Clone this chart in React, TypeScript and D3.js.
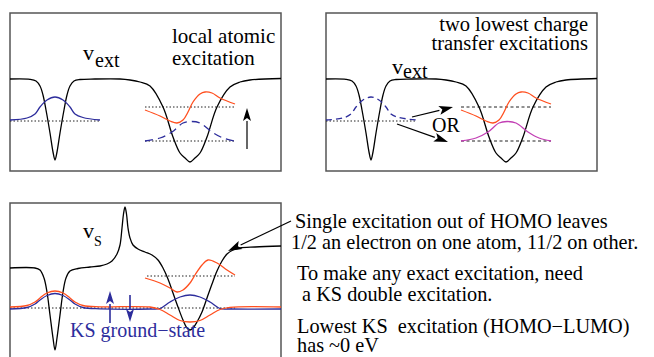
import * as d3 from 'd3';
import { useEffect, useRef } from 'react';

type Pt = [number, number];

// x: position along the diatomic (a.u.), y: energy (a.u.), plateau of v_ext = 0
const vextCurve: Pt[] = [
  [0, 0], [2, -0.03], [2.6, -0.2], [3, -0.7], [3.3, -1.6], [3.6, -3.1], [4, -5.4], [4.3, -7.3], [4.5, -8.1],
  [4.7, -7.3], [5, -5.4], [5.4, -3.1], [5.7, -1.6], [6, -0.7], [6.4, -0.2], [7, -0.05], [8.5, 0], [11, 0],
  [12, -0.1], [13, -0.3], [14, -0.7], [15.3, -2.8], [16.3, -5.8], [17, -7.4], [17.5, -7.9], [18, -8.3],
  [18.5, -7.9], [19, -7.4], [19.7, -5.8], [20.7, -2.8], [22, -0.8], [23, -0.3], [24, -0.1], [27.1, 0.05],
];
const homoLeft: Pt[] = [
  [0, -4.1], [1.7, -3.9], [2.5, -3.5], [3.0, -2.8], [3.7, -2.1], [4.5, -1.8], [5.3, -2.1], [6.0, -2.8],
  [6.5, -3.5], [7.3, -3.85], [9, -4.1],
];
const excitedUpper: Pt[] = [
  [13.5, -3.1], [15, -3.7], [16, -4.2], [16.7, -4.4], [17.3, -4.1], [17.8, -3.3], [18.3, -2.3], [19, -1.5],
  [19.5, -1.3], [20.2, -1.4], [21, -1.9], [22.5, -2.5],
];
const excitedLower: Pt[] = [
  [13.5, -6.2], [15, -5.9], [16.2, -5.3], [17.3, -4.4], [18.1, -4.25], [19, -4.4], [20.2, -5.3], [21.3, -5.9],
  [22.5, -6.2],
];
const vsCurve: Pt[] = [
  [0, 0], [2.5, 0], [3, -0.2], [3.4, -1.0], [3.7, -2.4], [4, -4.7], [4.3, -7.0], [4.5, -8.2], [4.7, -7.0],
  [5, -4.7], [5.3, -2.4], [5.6, -1.0], [6, -0.3], [6.8, -0.05], [8, 0.1], [9, 0.2], [9.7, 0.4], [10.2, 0.7],
  [10.7, 1.4], [11, 2.3], [11.2, 4.0], [11.35, 5.4], [11.5, 6.1], [11.65, 5.4], [11.8, 4.0], [12, 3.0],
  [12.3, 2.3], [12.8, 1.9], [13.5, 1.6], [14.2, 1.3], [14.8, 0.8], [15.3, 0], [15.8, -1.1], [16.3, -2.5],
  [16.8, -3.9], [17.3, -5.2], [17.7, -6.0], [18, -6.2], [18.3, -6.0], [18.7, -5.4], [19.2, -4.4], [19.7, -3.0],
  [20.2, -1.6], [20.7, -0.3], [21.2, 0.7], [21.7, 1.4], [22.3, 1.8], [23, 2.0], [24.5, 2.1], [27.1, 2.2],
];
const ksBlue: Pt[] = [
  [0, -4.1], [1.7, -3.95], [2.5, -3.6], [3, -3.2], [3.7, -2.75], [4.5, -2.55], [5.3, -2.75], [6, -3.2],
  [6.5, -3.6], [7.3, -3.95], [9, -4.08], [14, -4.1], [15, -4.05], [16, -3.4], [17, -2.9], [18, -2.7],
  [19, -2.9], [20, -3.4], [21, -4.05], [22, -4.1], [27.1, -4.1],
];
const ksRed: Pt[] = [
  [0, -3.9], [1.7, -3.75], [2.5, -3.4], [3, -3.0], [3.7, -2.5], [4.5, -2.3], [5.3, -2.5], [6, -3.0],
  [6.5, -3.4], [7.3, -3.75], [9, -3.88], [14, -3.9], [15, -4.15], [16, -4.7], [17, -5.25], [18, -5.4],
  [19, -5.25], [20, -4.7], [21, -4.15], [22, -3.93], [27.1, -3.9],
];
const ksUpper: Pt[] = [
  [13.5, -1.0], [15, -1.5], [16, -2.0], [16.7, -2.4], [17.3, -2.2], [18, -1.5], [18.5, -0.7], [19.2, 0.3],
  [19.8, 0.8], [20.7, 0.5], [21.7, -0.2], [22.5, -0.7],
];

// orbital levels [xStart, xEnd, energy]
const levelsExt: [number, number, number][] = [[0, 9, -4.2], [13.5, 22.5, -2.8], [13.5, 22.5, -6.2]];
const levelsKS: [number, number, number][] = [[0, 22.5, -4.0], [13.7, 22.5, -0.8]];

const rightNotes = [
  'Single excitation out of HOMO leaves',
  '1/2 an electron on one atom, 11/2 on other.',
  'To make any exact excitation, need',
  ' a KS double excitation.',
  'Lowest KS  excitation (HOMO\u2212LUMO)',
  'has ~0 eV',
];

const BLUE = '#2d2d9c';
const RED = '#ff4f1f';
const MAGENTA = '#c23fb4';
const FONT = '"Liberation Serif", "Times New Roman", "DejaVu Serif", serif';

export default function App() {
  const ref = useRef<SVGSVGElement | null>(null);

  useEffect(() => {
    const svg = d3.select(ref.current);
    svg.selectAll('*').remove();
    const x = d3.scaleLinear().domain([0, 27.1]).range([0, 271]);

    const arrow = (g: any, x1: number, y1: number, x2: number, y2: number, color: string, len = 12, half = 4, w = 1.2) => {
      const a = Math.atan2(y2 - y1, x2 - x1);
      const bx = x2 - Math.cos(a) * len;
      const by = y2 - Math.sin(a) * len;
      g.append('line').attr('x1', x1).attr('y1', y1).attr('x2', bx).attr('y2', by)
        .attr('stroke', color).attr('stroke-width', w);
      const px = -Math.sin(a) * half;
      const py = Math.cos(a) * half;
      g.append('path')
        .attr('d', `M${x2},${y2}L${bx + px},${by + py}L${bx + Math.cos(a) * 3},${by + Math.sin(a) * 3}L${bx - px},${by - py}Z`)
        .attr('fill', color);
    };

    const panel = (left: number, top: number, h: number, yDomain: [number, number]) => {
      const g = svg.append('g').attr('transform', `translate(${left},${top})`);
      const y = d3.scaleLinear().domain(yDomain).range([0, h]);
      const line = d3.line<Pt>().x((d) => x(d[0])).y((d) => y(d[1])).curve(d3.curveCatmullRom.alpha(0.5));
      g.append('rect').attr('width', 271).attr('height', h).attr('fill', 'none')
        .attr('stroke', '#555').attr('stroke-width', 1.5);
      const curve = (data: Pt[], color: string, dash?: string, w = 1.3) =>
        g.append('path').attr('d', line(data) ?? '').attr('fill', 'none').attr('stroke', color)
          .attr('stroke-width', w).attr('stroke-dasharray', dash ?? null);
      const levels = (lv: [number, number, number][], dash: string) =>
        lv.forEach(([a, b, e]) =>
          g.append('line').attr('x1', x(a)).attr('x2', x(b)).attr('y1', y(e)).attr('y2', y(e))
            .attr('stroke', '#222').attr('stroke-width', 1).attr('stroke-dasharray', dash));
      return { g, y, curve, levels };
    };

    // panel 1: local atomic excitation
    const p1 = panel(10, 13, 158, [6.6, -9.2]);
    p1.levels(levelsExt, '1.5,2');
    p1.curve(vextCurve, '#000');
    p1.curve(homoLeft, BLUE);
    p1.curve(excitedUpper, RED);
    p1.curve(excitedLower, BLUE, '8,5');
    arrow(p1.g, x(23.7), p1.y(-7.0), x(23.7), p1.y(-2.9), '#000', 13, 4);

    // panel 2: charge transfer
    const p2 = panel(326, 13, 158, [6.6, -9.2]);
    p2.levels(levelsExt.slice(0, 1), '1.5,2');
    p2.levels(levelsExt.slice(1), '3,2.5');
    p2.curve(vextCurve, '#000');
    p2.curve(homoLeft, BLUE, '6,4');
    p2.curve(excitedUpper, RED);
    p2.curve(excitedLower, MAGENTA);
    arrow(p2.g, x(8.6), p2.y(-3.8), x(12.7), p2.y(-2.8), '#000', 14, 4.5);
    arrow(p2.g, x(7.1), p2.y(-4.5), x(12.2), p2.y(-6.3), '#000', 14, 4.5);

    // panel 3: KS system
    const p3 = panel(10, 203, 180, [6.5, -11.5]);
    p3.levels(levelsKS, '1.5,2');
    p3.curve(vsCurve, '#000');
    p3.curve(ksBlue, BLUE);
    p3.curve(ksRed, RED);
    p3.curve(ksUpper, RED);
    arrow(p3.g, x(10), p3.y(-5.5), x(10), p3.y(-2.3), BLUE, 13, 4, 1.6);
    arrow(p3.g, x(12), p3.y(-2.7), x(12), p3.y(-5.4), BLUE, 13, 4, 1.6);

    const text = (tx: number, ty: number, s: string, size = 20.3, color = '#000', anchor = 'start') =>
      svg.append('text').attr('x', tx).attr('y', ty).style('font-family', FONT).attr('font-size', size)
        .attr('fill', color).attr('text-anchor', anchor).text(s);

    text(83, 60, 'v', 22);
    text(95, 67, 'ext', 20);
    text(172, 43, 'local atomic', 21);
    text(172, 65, 'excitation', 21);
    text(588, 31, 'two lowest charge', 20.5, '#000', 'end');
    text(588, 50, 'transfer excitations', 20.5, '#000', 'end');
    text(392, 74, 'v', 22);
    text(403, 78, 'ext', 20);
    text(432, 132, 'OR', 20);
    text(83, 238, 'v', 22);
    text(94, 246, 'S', 14);
    text(70, 337, 'KS ground\u2212state', 20, BLUE);

    const baselines = [228, 249, 280, 301, 333, 352];
    const lefts = [295, 291, 297, 297, 297, 297];
    rightNotes.forEach((s, i) => text(lefts[i], baselines[i], s).style('white-space', 'pre'));

    arrow(svg, 291, 221, 228, 251, '#000', 14, 4.5);
  }, []);

  return (
    <svg
      ref={ref}
      width={654}
      height={357}
      style={{ position: 'absolute', left: 0, top: 0, background: '#fff' }}
    />
  );
}
